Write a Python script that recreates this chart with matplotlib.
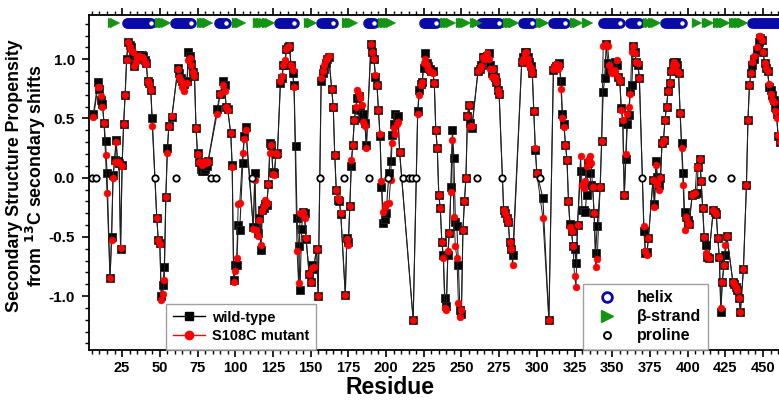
import numpy as np
import matplotlib
matplotlib.use("Agg")
import matplotlib.pyplot as plt
from matplotlib.lines import Line2D
from matplotlib.ticker import MultipleLocator, FixedLocator

plt.rcParams['font.family'] = ['Liberation Sans', 'DejaVu Sans']
plt.rcParams['font.weight'] = 'bold'
plt.rcParams['axes.unicode_minus'] = False
plt.rcParams['mathtext.default'] = 'bf'

nan = np.nan
# residue, wild-type, S108C mutant
residues = [6, 9, 10, 11, 12, 13, 14, 15, 17, 18, 19, 20, 21, 22, 23, 24, 25, 26, 27, 28,
            29, 30, 31, 32, 33, 34, 35, 36, 38, 39, 40, 41, 42, 43, 44, 45, 48, 49, 50, 51,
            52, 53, 54, 55, 56, 58, 62, 63, 64, 65, 66, 68, 69, 70, 71, 72, 73, 74, 75, 76,
            77, 78, 79, 80, 81, 82, 88, 90, 92, 93, 94, 95, 97, 98, 99, 100, 101, 102, 103, 105,
            106, 107, 112, 113, 114, 115, 116, 117, 118, 119, 120, 121, 122, 123, 124, 125, 126, 127, 128, 130,
            131, 132, 133, 134, 135, 136, 137, 138, 139, 140, 141, 142, 143, 144, 145, 146, 147, 149, 150, 151,
            152, 154, 155, 157, 158, 159, 160, 161, 162, 164, 165, 166, 167, 168, 169, 170, 173, 174, 175, 176,
            177, 178, 179, 180, 181, 182, 183, 184, 185, 186, 187, 190, 191, 192, 193, 194, 195, 196, 197, 198,
            199, 200, 202, 203, 204, 205, 206, 207, 208, 209, 218, 221, 222, 223, 224, 225, 226, 227, 228, 229,
            230, 231, 232, 233, 234, 235, 236, 237, 238, 239, 240, 241, 242, 243, 244, 245, 246, 247, 248, 249,
            250, 251, 252, 253, 254, 255, 256, 257, 261, 262, 263, 264, 265, 267, 268, 269, 270, 271, 272, 273,
            274, 275, 278, 279, 280, 281, 282, 283, 284, 290, 291, 292, 293, 294, 295, 296, 297, 298, 299, 300,
            304, 308, 311, 312, 313, 314, 315, 316, 317, 318, 319, 320, 321, 322, 323, 324, 325, 326, 327, 329,
            330, 331, 332, 333, 334, 335, 336, 337, 338, 339, 340, 342, 343, 344, 345, 346, 347, 348, 349, 350,
            351, 352, 353, 354, 355, 356, 357, 358, 359, 360, 361, 362, 363, 364, 365, 366, 367, 368, 371, 372,
            373, 374, 377, 378, 379, 380, 381, 382, 383, 384, 385, 386, 387, 388, 389, 390, 391, 392, 393, 394,
            395, 396, 397, 398, 399, 400, 401, 403, 405, 406, 407, 408, 409, 410, 411, 412, 413, 414, 417, 418,
            419, 420, 421, 422, 423, 424, 425, 426, 430, 431, 432, 433, 434, 435, 437, 439, 440, 441, 442, 443,
            444, 446, 447, 448, 449, 450, 451, 452, 453, 454, 455, 456, 457, 458, 459, 460, 461]
wild_type = [0.54, 0.81, 0.75, 0.66, 0.62, 0.46, 0.31, 0.04, -0.85, -0.50, 0.02, 0.15, 0.32, 0.14, 0.12, -0.60, 0.11, 0.45, 0.70, 1.00,
             1.15, 1.12, 1.10, 1.04, 0.94, 1.00, 1.04, 1.04, 1.04, 1.03, 0.99, 0.97, 0.82, 0.80, 0.74, 0.50, -0.34, -0.53, -0.55, -1.00,
             -0.91, -0.75, -0.16, 0.25, 0.44, 0.51, 0.93, 0.88, 0.84, 0.82, 0.79, 0.82, 1.06, 1.03, 0.96, 0.89, 0.86, 0.42, 0.21, 0.13,
             0.07, 0.06, 0.06, 0.07, 0.10, 0.14, 0.58, 0.71, 0.82, 0.78, 0.60, 0.58, 0.38, 0.11, -0.86, -0.74, -0.74, -0.40, -0.44, 0.12,
             0.35, 0.43, -0.42, 0.04, -0.42, -0.47, -0.34, -0.61, -0.27, -0.26, -0.22, -0.23, -0.05, 0.29, 0.28, 0.05, 0.04, 0.20, 0.21, 0.80,
             0.84, 0.95, 0.95, 1.09, 1.10, 1.11, 0.95, 0.88, 0.78, 0.27, -0.34, -0.58, -0.95, -0.43, -0.29, -0.30, -0.52, -0.81, -0.88, -0.74,
             -0.77, -0.60, -1.00, 0.82, 0.88, 0.92, 0.97, 1.00, 1.02, 0.75, 0.60, 0.19, -0.10, -0.19, -0.20, -0.31, -0.99, -0.51, -0.54, -0.24,
             0.10, 0.28, 0.49, 0.58, 0.67, 0.69, 0.57, 0.50, 0.54, 0.46, 0.28, 1.13, 1.06, 1.00, 0.85, 0.78, 0.57, 0.35, -0.08, -0.38,
             -0.35, -0.30, 0.04, 0.14, 0.36, 0.45, 0.54, 0.50, 0.52, 0.22, -1.20, 0.56, 0.74, 0.79, 0.81, 0.93, 1.05, 0.97, 0.94, 0.92,
             0.90, 0.90, 0.80, 0.40, 0.25, -0.15, -0.26, -0.54, -0.65, -1.02, -1.08, -0.65, -0.47, -0.08, 0.40, 0.17, -0.37, -0.41, -0.74, -1.12,
             -1.15, -0.44, -0.20, 0.00, 0.52, 0.61, 0.46, 0.42, 0.90, 0.92, 0.95, 1.02, 1.02, 1.03, 1.05, 0.95, 0.88, 0.92, 0.85, 0.81,
             0.74, 0.71, -0.27, -0.30, -0.34, -0.37, -0.54, -0.60, -0.65, 0.98, 1.02, 1.06, 1.06, 1.02, 0.98, 0.94, 0.88, 0.56, 0.23, 0.04,
             -0.17, -1.20, 0.91, 0.93, 0.94, 0.95, 0.97, 0.82, 0.54, 0.45, 0.28, 0.15, -0.20, -0.39, -0.45, -0.58, -0.60, -0.72, -0.40, 0.06,
             -0.27, -0.27, -0.29, -0.15, 0.12, 0.04, -0.06, -0.08, -0.30, -0.64, -0.41, -0.08, 0.31, 0.72, 0.84, 1.13, 0.97, 0.90, 0.92, 0.95,
             0.96, 0.98, 0.95, 0.85, 0.82, 0.59, 0.47, -0.15, 0.16, 0.45, 0.53, 0.73, 0.78, 1.11, 1.06, 0.98, 0.95, 0.84, -0.45, -0.64,
             -0.63, -0.51, -0.02, -0.22, 0.14, 0.01, -0.06, 0.00, 0.29, 0.32, 0.49, 0.60, 0.73, 0.80, 0.90, 0.97, 0.98, 0.98, 0.95, 0.88,
             0.55, 0.29, 0.04, -0.29, -0.33, -0.36, -0.39, -0.15, -0.14, -0.13, 0.09, 0.16, -0.03, -0.26, -0.50, -0.57, -0.67, -0.68, -0.27, -0.29,
             -0.31, -0.51, -0.67, -1.13, -0.88, -0.74, -0.65, -0.49, -0.88, -0.90, -0.92, -0.95, -1.02, -1.13, -0.77, -0.06, 0.49, 0.78, 0.88, 0.95,
             1.00, 1.08, 1.15, 1.18, 1.16, 1.06, 0.97, 0.93, 0.90, 0.77, 0.74, 0.70, 0.66, 0.60, 0.54, 0.35, 0.30]
s108c = [0.51, 0.77, 0.77, 0.69, 0.60, 0.46, 0.19, -0.13, -0.85, -0.53, 0.00, 0.13, 0.30, 0.13, 0.12, -0.59, 0.10, 0.45, 0.70, 0.99,
         1.15, 1.10, 1.08, 1.06, 0.94, 0.98, 1.02, 1.03, 1.02, 1.01, 0.98, 0.96, 0.82, 0.79, 0.74, 0.44, -0.34, -0.53, -0.56, -1.03,
         -0.98, -0.86, -0.16, 0.21, 0.44, 0.52, 0.92, 0.85, 0.82, 0.77, 0.73, 0.80, 0.99, 1.01, 0.95, 0.89, 0.86, 0.42, 0.20, 0.13,
         0.12, 0.11, 0.13, 0.12, 0.14, 0.13, 0.54, 0.71, 0.78, 0.73, 0.60, 0.57, 0.38, 0.09, -0.88, -0.79, -0.68, -0.22, -0.21, 0.21,
         0.33, 0.40, -0.43, -0.02, -0.44, -0.49, -0.36, -0.57, -0.28, -0.24, -0.19, -0.21, -0.05, 0.21, 0.28, 0.03, 0.02, 0.21, 0.20, 0.82,
         0.86, 0.95, 0.99, 1.09, 1.10, 1.11, 0.95, 0.91, 0.77, nan, -0.62, -0.89, -0.30, -0.31, -0.29, -0.34, -0.51, -0.81, -0.88, -0.76,
         -0.75, -0.60, -1.00, 0.84, 0.90, 0.95, 0.99, 1.01, 1.03, 0.75, 0.60, 0.19, -0.10, -0.17, -0.19, -0.30, -0.99, -0.52, -0.57, -0.24,
         0.15, 0.28, 0.49, 0.60, 0.74, 0.71, 0.67, 0.61, 0.47, 0.44, 0.25, 1.13, 1.06, 1.00, 0.87, 0.78, 0.57, 0.37, -0.03, -0.29,
         -0.25, -0.22, -0.21, -0.02, 0.29, 0.42, 0.37, 0.45, 0.47, 0.22, -1.20, 0.54, 0.70, 0.78, 0.81, 0.97, 1.00, 0.95, 0.92, 0.90,
         0.89, 0.88, 0.80, 0.40, 0.25, -0.15, -0.26, -0.54, -0.68, -1.10, -1.12, -0.62, -0.47, -0.12, 0.32, -0.33, -0.58, -0.68, -1.06, -1.18,
         -1.12, -0.44, -0.20, 0.00, 0.52, 0.61, 0.44, 0.44, 0.90, 0.92, 0.94, 1.02, 1.00, 1.05, 1.00, 0.92, 0.85, 0.92, 0.85, 0.81,
         0.74, 0.71, -0.27, -0.30, -0.34, -0.37, -0.54, -0.60, -0.74, 0.98, 1.00, 1.05, 1.06, 1.00, 0.95, 0.93, 0.88, 0.56, 0.25, 0.04,
         -0.34, -1.20, 0.92, 0.94, 0.96, 0.92, 0.95, 0.75, 0.50, 0.43, 0.28, 0.15, -0.20, -0.42, -0.45, -0.58, -0.83, -0.92, -0.40, 0.18,
         -0.06, -0.09, -0.03, 0.10, 0.15, 0.18, 0.12, -0.08, -0.30, -0.75, -0.69, -0.08, 0.31, 1.11, 1.12, 1.13, 1.11, 0.95, 0.90, 0.88,
         0.91, 0.90, 0.99, 0.85, 0.82, 0.57, 0.49, -0.15, 0.20, 0.54, 0.60, 0.71, 1.06, 1.11, 1.05, 0.98, 0.97, 0.84, -0.41, -0.62,
         -0.65, -0.51, -0.02, -0.25, 0.11, -0.05, -0.10, 0.00, 0.29, 0.32, 0.49, 0.60, 0.73, 0.80, 0.90, 0.95, 0.98, 0.95, 0.90, 0.88,
         0.55, 0.25, -0.06, -0.44, -0.33, -0.38, -0.39, -0.15, -0.13, 0.09, 0.09, 0.16, -0.03, -0.26, -0.50, -0.64, -0.67, -0.68, -0.27, -0.29,
         -0.31, -0.51, -0.67, -1.10, -0.88, -0.74, -0.57, -0.49, -0.88, -0.90, -0.92, -0.95, -1.02, -1.13, -0.77, -0.06, 0.49, 0.78, 0.88, 0.98,
         1.03, 1.10, 1.20, 1.20, 1.16, 1.06, 0.97, 0.93, 0.90, 0.79, 0.71, 0.66, 0.64, 0.56, 0.50, 0.36, 0.30]

prolines = [5, 8, 47, 61, 84, 87, 111, 156, 172, 189, 201, 211, 215, 217, 220, 260, 277, 302, 370, 416, 429]
helix_ranges = [(28, 44), (60, 71), (89, 94), (129, 139), (157, 165), (188, 192), (225, 233),
                (263, 275), (291, 297), (311, 319), (344, 355), (362, 368), (385, 396), (443, 466)]
strand_ranges = [(19, 20), (50, 54), (78, 82), (101, 104), (115, 119), (121, 123), (149, 151),
                 (174, 178), (198, 203), (239, 243), (250, 253), (259, 260), (281, 285), (303, 305),
                 (325, 327), (333, 334), (374, 375), (377, 379), (406, 406), (413, 414), (420, 425),
                 (431, 437)]
ss_level = 1.31

res = np.array(residues, float)
wt = np.array(wild_type, float)
mt = np.array(s108c, float)
assert len(res) == len(wt) == len(mt)

W, H = 779, 403
fig = plt.figure(figsize=(W / 100, H / 100), dpi=100)
ax_l, ax_r, ax_t, ax_b = 89, 793.2, 15, 350
ax = fig.add_axes([ax_l / W, 1 - ax_b / H, (ax_r - ax_l) / W, (ax_b - ax_t) / H])
ax.set_xlim(3.05, 470)
ax.set_ylim(-1.455, 1.374)

line_c = '#202020'
ax.plot(res, wt, '-', color=line_c, lw=0.8, marker='s', ms=5.6, mfc='black', mec='#222222', mew=0.6, zorder=3)
m = np.isfinite(mt)
ax.plot(res[m], mt[m], '-', color=line_c, lw=0.7, marker='o', ms=5.0, mfc='#ff0000', mec='#ff0000', mew=0.3, zorder=4)
ax.plot(prolines, np.zeros(len(prolines)), 'o', ms=4.6, mfc='white', mec='black', mew=1.3, zorder=5, ls='none')

blue = '#0a0aa8'
green = '#149414'
for a, b in helix_ranges:
    xs = np.arange(a, b + 1)
    ax.plot(xs, np.full(len(xs), ss_level), 'o', ms=5.4, mfc='white', mec=blue, mew=2.2, ls='none', clip_on=False, zorder=6)
for a, b in strand_ranges:
    xs = np.arange(a, b + 1)
    ax.plot(xs, np.full(len(xs), ss_level), '>', ms=7.6, mfc=green, mec=green, mew=0.2, ls='none', clip_on=False, zorder=7)

ax.xaxis.set_major_locator(FixedLocator(np.arange(25, 475, 25)))
ax.xaxis.set_minor_locator(MultipleLocator(5))
ax.yaxis.set_major_locator(FixedLocator([-1.0, -0.5, 0.0, 0.5, 1.0]))
ax.yaxis.set_minor_locator(MultipleLocator(0.1))
ax.set_yticklabels(['-1.0', '-0.5', '0.0', '0.5', '1.0'])
ax.tick_params(axis='both', which='major', direction='out', length=5, width=1.2, labelsize=10.5, pad=3)
ax.tick_params(axis='both', which='minor', direction='out', length=3, width=1.0)
ax.tick_params(top=True, which='both')
ax.tick_params(axis='y', pad=5, labelsize=11)
for lab in ax.get_xticklabels() + ax.get_yticklabels():
    lab.set_fontweight('bold')
for s in ax.spines.values():
    s.set_linewidth(1.3)

fig.text(390 / W, 1 - 388 / H, 'Residue', ha='center', va='center', fontsize=16.5, fontweight='bold')
fig.text(27 / W, 1 - 176 / H, 'Secondary Structure Propensity\nfrom $^{13}$C secondary shifts',
         ha='center', va='center', rotation=90, fontsize=12.8, fontweight='bold', linespacing=1.1)

h1 = [Line2D([], [], color='black', lw=1.0, marker='s', ms=6, mfc='black', mec='black'),
      Line2D([], [], color='#ff0000', lw=1.0, marker='o', ms=6, mfc='#ff0000', mec='#ff0000')]
leg1 = fig.legend(h1, ['wild-type', 'S108C mutant'], loc='upper left',
                  bbox_to_anchor=(166 / W, 1 - 304 / H), frameon=True, fancybox=False,
                  edgecolor='#888888', prop={'weight': 'bold', 'size': 10.5}, handlelength=2.2,
                  borderpad=0.45, labelspacing=0.3, handletextpad=0.5, borderaxespad=0)
leg1.get_frame().set_linewidth(1.0)

h2 = [Line2D([], [], ls='none', marker='o', ms=7, mfc='white', mec=blue, mew=2.0),
      Line2D([], [], ls='none', marker='>', ms=8, mfc=green, mec=green),
      Line2D([], [], ls='none', marker='o', ms=5, mfc='white', mec='black', mew=1.4)]
leg2 = fig.legend(h2, ['helix', '\u03b2-strand', 'proline'], loc='upper left',
                  bbox_to_anchor=(583 / W, 1 - 284 / H), frameon=True, fancybox=False,
                  edgecolor='#888888', prop={'weight': 'bold', 'size': 11.5}, handlelength=2.2,
                  borderpad=0.4, labelspacing=0.25, handletextpad=0.8, borderaxespad=0)
leg2.get_frame().set_linewidth(1.0)

fig.savefig('out.png', dpi=100)
